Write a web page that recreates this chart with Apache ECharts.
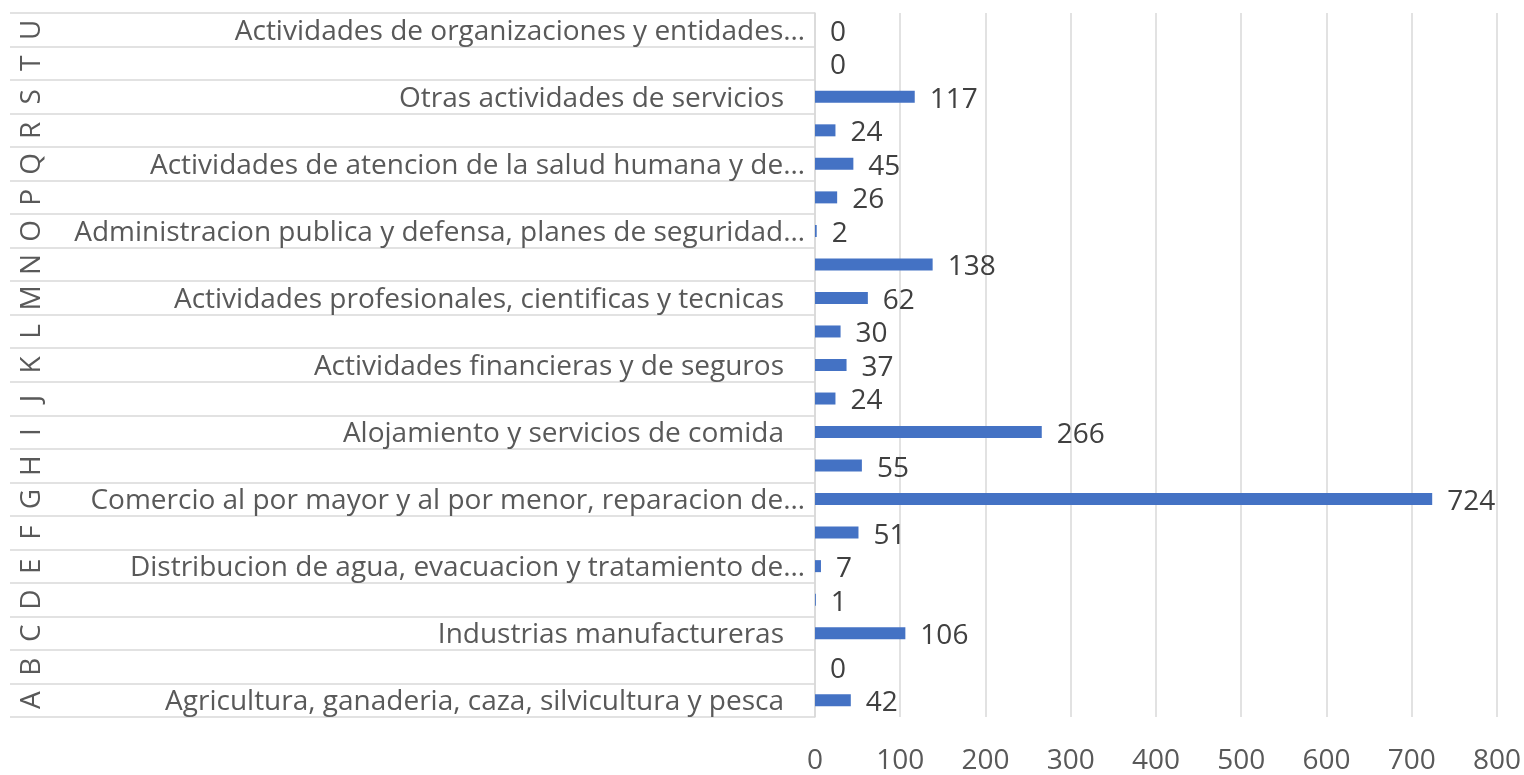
<!DOCTYPE html>
<html>
<head>
<meta charset="utf-8">
<script src="https://cdn.jsdelivr.net/npm/echarts@6/dist/echarts.min.js"></script>
<style>
  html, body { margin: 0; padding: 0; background: #fff; }
  #chart { width: 1524px; height: 775px; }
</style>
</head>
<body>
<div id="chart"></div>
<script>
// categories bottom -> top
var letters = ['A', 'B', 'C', 'D', 'E', 'F', 'G', 'H', 'I', 'J', 'K', 'L', 'M', 'N', 'O', 'P', 'Q', 'R', 'S', 'T', 'U'];
var names = [
  'Agricultura, ganaderia, caza, silvicultura y pesca', '',
  'Industrias manufactureras', '',
  'Distribucion de agua, evacuacion y tratamiento de…', '',
  'Comercio al por mayor y al por menor, reparacion de…', '',
  'Alojamiento y servicios de comida', '',
  'Actividades financieras y de seguros', '',
  'Actividades profesionales, cientificas y tecnicas', '',
  'Administracion publica y defensa, planes de seguridad…', '',
  'Actividades de atencion de la salud humana y de…', '',
  'Otras actividades de servicios', '',
  'Actividades de organizaciones y entidades…'
];
var values = [42, 0, 106, 1, 7, 51, 724, 55, 266, 24, 37, 30, 62, 138, 2, 26, 45, 24, 117, 0, 0];

var font = 'Open Sans';
var fs = 28;
var chart = echarts.init(document.getElementById('chart'));
chart.setOption({
  animation: false,
  grid: { left: 815, right: 26, top: 13, bottom: 55 },
  xAxis: {
    type: 'value',
    min: 0,
    max: 800,
    interval: 100,
    axisLine: { show: false },
    axisTick: { show: false },
    axisLabel: { color: '#595959', fontSize: fs, fontFamily: font, margin: 30 },
    splitLine: { lineStyle: { color: '#d9d9d9', width: 1.5 } }
  },
  yAxis: [
    {
      type: 'category',
      data: letters,
      axisLine: { show: true, lineStyle: { color: '#d9d9d9', width: 1.5 } },
      axisTick: { show: true, interval: 0, length: 805, lineStyle: { color: '#d9d9d9', width: 1.5 } },
      axisLabel: {
        interval: 0,
        margin: 10,
        formatter: function (v, i) {
          var s = names[i];
          if (!s) return '';
          return s.slice(-1) === '…' ? '{t|' + s + '}' : '{f|' + s + '}';
        },
        rich: {
          t: { color: '#595959', fontSize: fs, fontFamily: font, padding: [4, 0, 0, 0] },
          f: { color: '#595959', fontSize: fs, fontFamily: font, padding: [4, 21, 0, 0] }
        }
      }
    },
    {
      type: 'category',
      data: letters,
      position: 'left',
      offset: 769,
      axisLine: { show: false },
      axisTick: { show: false },
      axisLabel: { interval: 0, rotate: 90, margin: 0, color: '#595959', fontSize: fs, fontFamily: font }
    }
  ],
  series: [
    {
      type: 'bar',
      yAxisIndex: 0,
      barWidth: 12,
      itemStyle: { color: '#4472C4' },
      label: { show: true, position: 'right', distance: 15, offset: [0, 3], color: '#404040', fontSize: fs, fontFamily: font },
      data: values
    }
  ]
});
</script>
</body>
</html>
